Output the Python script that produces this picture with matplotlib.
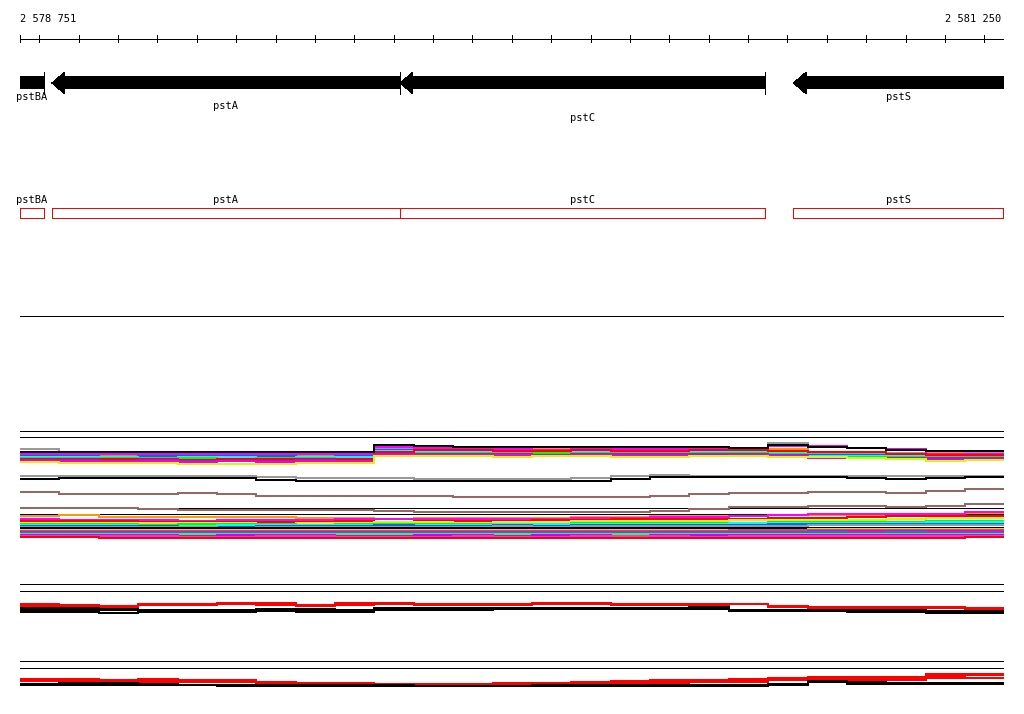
import matplotlib
matplotlib.use("Agg")
import matplotlib.pyplot as plt
from matplotlib.patches import Polygon, Rectangle

plt.rcParams["font.family"] = "DejaVu Sans Mono"

# region shown
view_start, view_end = 2578751, 2581250

# genes (all on the minus strand)
gene_names = ["pstBA", "pstA", "pstC", "pstS"]
gene_starts = [2578690, 2578832, 2579716, 2580715]
gene_ends = [2578812, 2579716, 2580644, 2581330]
label_rows = [0, 1, 2, 0]

# coverage cells, 100 bp each
cell_edges = [view_start + 100 * k for k in range(25)] + [view_end]

# track 1: dense coloured band + single lines (offsets below track line)
band1 = {
    "#ff9900": [16, 16.5, 16.5, 16, 16.5, 16.5, 16, 16.5, 16, 11, 12, 12.5, 12, 12.5, 12, 12.5, 12.5, 12.5, 13, 12, 15.5, 15.5, 16, 16, 16],
    "#999999": [12.5, 18, 18.5, 18, 18.5, 18.5, 18.5, 18, 18.5, 12, 13, 13.5, 13.5, 13, 13, 13.5, 13.5, 13, 13.5, 6.5, 16, 16, 16.5, 17, 16.5],
    "#ff00ff": [17.5, 17, 17.5, 17.5, 17, 17.5, 17.5, 17, 17.5, 10, 11.5, 12, 12.5, 13, 12.5, 12, 12.5, 11.5, 12, 9.5, 9.7, 11, 12, 17, 17],
    "#0066ff": [19.5, 19.5, 20, 19.5, 19.5, 19, 19.5, 20, 19.5, 13.5, 14, 14.5, 14.5, 15, 14.5, 14.5, 14, 14.5, 14.5, 15, 18, 18, 18, 18.5, 18.5],
    "#00ffff": [20.5, 20.5, 20.5, 21, 20.5, 20.5, 21, 20.5, 20.5, 14.5, 15, 15.5, 15, 15.5, 15.5, 15, 15.5, 15.5, 15.5, 16, 19.5, 19.5, 19.5, 19.5, 20],
    "#00ff00": [21.5, 21.5, 21, 21.5, 21.5, 22, 21.5, 21.5, 22, 15.5, 16, 16, 16.5, 16, 16.5, 16, 16.5, 16.5, 16.5, 17, 20, 20.5, 20, 20.5, 20.5],
    "#ff0000": [22.5, 22, 22.5, 22.5, 23, 22.5, 22, 22.5, 22.5, 15, 13, 13.5, 14, 14, 13.5, 14.5, 14, 13.5, 13, 14, 15, 15.5, 17.5, 18, 18],
    "#cc00ff": [23, 23.5, 24, 23.5, 24, 24, 24, 23.5, 24, 17, 17.5, 17.5, 17, 18, 17.5, 17.5, 17, 17.5, 17.5, 18, 21, 21, 21.5, 21, 21.5],
    "#ee00ee": [24.5, 24.5, 24, 24.5, 25, 24.5, 25, 24.5, 24.5, 18, 18.5, 18.5, 18.5, 19, 18.5, 19, 19, 19, 18.5, 19, 21.5, 21.5, 22, 23, 23.5],
    "#ccff00": [25.5, 26.5, 26.5, 26.5, 27, 27, 27, 26.5, 26, 19, 19.5, 19.5, 20, 19.5, 19.5, 20, 20, 19.5, 19.5, 20, 20.5, 21, 22.5, 24, 23],
    "#000000": [15, 15, 15, 15, 15, 15, 15, 15, 15, 8.5, 9.5, 10.5, 10.5, 10.5, 10.5, 10.5, 10.5, 10.5, 11, 8.5, 10, 11.5, 13, 14.7, 14.7],
}
grey_line = [39.7, 39.7, 39.7, 39.7, 39.7, 39.7, 40.5, 41.5, 41.3, 41.5, 42.3, 42.3, 42.3, 42.3, 41.5, 39.5, 38.5, 39.5, 39.5, 39.5, 39.5, 39.5, 39.5, 39.5, 39.5]
black_line = [42.3, 41.3, 41.3, 41.3, 41.3, 41.3, 43, 44.3, 44.3, 44.8, 44.3, 44.3, 44.3, 44.3, 44.3, 42.5, 40.5, 40.5, 40.5, 40.5, 40.5, 41.5, 42.3, 41.8, 40.3]
brown_line = [55.3, 57, 57, 57, 56.5, 57, 59, 59.3, 59.3, 59.3, 59.3, 60.3, 60.3, 60.3, 60.3, 60.3, 59.5, 57.8, 56.5, 56, 55.3, 55.5, 56.3, 54.5, 52.8]

# track 2
brown_line2 = [1, 1, 1, 2, 3, 3, 3, 3, 3, 3.7, 4.3, 4.3, 4.3, 4.3, 4.5, 5, 3.7, 1.5, 0, 0, -1, -1, 0, -1, -3]
band2 = {
    "#ff9900": [2.5, 2, 3.5, 3.5, 4, 4, 4, 4.5, 5, 5.5, 5, 5, 4.5, 4.5, 4, 3.5, 3, 3, 2.5, 2, 2, 2.5, 1.5, 1, 0],
    "#ff00ff": [6, 6.5, 7, 7, 7.5, 7, 7, 6.5, 6, 6, 6, 6, 5.5, 5.5, 5, 4.5, 4, 3.5, 2.5, 1.5, 1, 1, 1, 1, -1.5],
    "#ff0000": [8, 7.5, 8, 8.5, 8.5, 9, 9, 8.5, 8, 8.5, 8, 8, 7.5, 7, 7, 6, 6, 5.5, 5.5, 5, 4.5, 3.5, 3, 2.5, 2.5],
    "#ccff00": [9.5, 10, 10, 9.5, 10, 10, 10.5, 10, 9.5, 9, 9, 9.5, 9, 9, 8, 8, 8, 7.5, 7, 7, 7, 6.5, 6, 5, 4.5],
    "#00ff00": [10.5, 11, 11, 11.5, 11, 11, 11, 11.5, 11, 10.5, 10.5, 11, 10.5, 10.5, 10, 10, 9.5, 9.5, 9.5, 9, 9, 8.5, 8.5, 7.5, 7.5],
    "#00ffff": [11.5, 12, 12, 12.5, 12.5, 12, 12, 12, 11.5, 11.5, 11.5, 11.5, 11, 11, 11, 10.5, 10.5, 10.5, 10, 10, 10, 9.5, 9.5, 8.5, 8.5],
    "#0066ff": [12.5, 13, 13, 13, 13.5, 13.5, 13, 13, 12.5, 12, 12.5, 12.5, 12, 12.5, 12, 12, 11.5, 11.5, 11.5, 11, 11, 11, 10.5, 10.5, 10.5],
    "#999999": [13.5, 14, 14, 14, 14, 14.5, 14, 14, 13.5, 13.5, 13.5, 13.5, 13, 13.5, 13, 13, 13, 12.5, 12.5, 12.5, 12, 12, 12, 11.5, 11.5],
    "#000000": [15, 15, 15, 15, 15, 15, 15, 15, 15, 15, 15, 15, 15, 15, 15, 15, 15, 15, 15, 15, 14.8, 14.8, 14.5, 14.5, 14.5],
    "#ffcc00": [16.5, 16.5, 17, 16.5, 16.5, 17, 16.5, 16.5, 17, 16.5, 16.5, 16.5, 16.5, 17, 16.5, 16.5, 16.5, 16.5, 16.5, 16.5, 16, 16, 16, 16, 16],
    "#996666": [17.5, 17.5, 18, 17.5, 17.5, 17.5, 18, 17.5, 17.5, 17.5, 18, 17.5, 17.5, 17.5, 17.5, 18, 17.5, 17.5, 17, 17, 17, 17, 17, 17, 16.5],
    "#ee00ee": [18.5, 18.5, 19, 19, 18.5, 18.5, 19, 19, 18.5, 18.5, 19, 19, 19, 18.5, 18.5, 19, 19, 18.5, 18.5, 18.5, 18, 18, 18, 17.5, 17.5],
    "#3366ff": [19.5, 19.5, 20, 20, 20, 19.5, 19.5, 20, 20, 20, 20, 20, 19.5, 20, 20, 20, 19.5, 19.5, 19.5, 19.5, 19, 19.5, 19, 19.5, 19.5],
    "#33ff33": [20.5, 20.5, 21, 21, 21, 21, 21, 21, 21, 21, 21, 21, 21, 21, 20.5, 21, 21, 21, 21, 20.5, 20.5, 20.5, 20.5, 21, 21],
    "#cc00ff": [21.5, 22, 22, 22, 22.5, 22, 22, 22, 22.5, 22.5, 22, 22, 22.5, 22, 22, 22.5, 22, 22, 22, 22, 21.5, 22, 22, 22, 22],
    "#ff33cc": [22.5, 23, 23, 23, 23.5, 23.5, 23, 23, 23.5, 23.5, 23.5, 23, 23.5, 23.5, 23, 23, 23, 23.5, 23, 23, 23, 23, 22.5, 23, 23],
    "#ff0001": [24, 24, 24.5, 24.5, 25, 24.5, 24.5, 24.5, 24.5, 25, 25, 24.5, 24.5, 24.5, 25, 24.5, 24.5, 24.5, 25, 25, 24.5, 24.5, 24.5, 25, 24],
}

# track 3: red / black replicates
t3_red = [
    [14, 14.5, 15.2, 13.7, 13.2, 12.2, 13, 14.2, 12.7, 12.7, 13.2, 13.7, 13.7, 12.7, 13, 13.7, 13.7, 14, 13.2, 15.2, 16.7, 16.7, 17, 16.7, 17.7],
    [14.5, 15, 16, 14.5, 14, 13, 13.5, 15, 13.5, 13, 14, 14, 14, 13, 13, 14, 14, 14, 13.5, 16, 17, 17, 17.5, 17.5, 18],
    [15.5, 16.5, 17.5, 15, 15, 13.5, 14.5, 16, 14.5, 14, 15, 14.5, 15, 14, 14, 15, 14.5, 15, 14, 16.5, 18, 17.5, 18.5, 18, 18.5],
]
t3_black = [
    [18, 18, 18.5, 20, 21, 20, 19, 20, 21, 19, 19, 18.5, 18, 18, 18, 18, 18, 18, 20, 20.5, 20.5, 20.5, 21, 22, 22],
    [20, 20, 20, 20.5, 20, 20.5, 19.5, 19, 19.5, 18, 18, 18, 17.5, 17.5, 17.5, 17.5, 17.5, 17, 19.5, 19.5, 19.5, 19.5, 20, 21, 21],
    [22, 22, 23, 22, 22, 21.5, 21, 21.5, 22, 20, 20, 19.5, 19, 19, 19, 19, 19, 19, 20.5, 21, 21, 21.5, 21.5, 22.5, 22.5],
]

# track 4: red / black replicates
t4_red = [
    [11.5, 11.5, 13, 11.5, 12.5, 13, 14.5, 16, 16, 16.5, 17, 16.5, 16, 15.5, 14.5, 13.5, 13, 12.5, 11.5, 10.5, 10, 10, 9.5, 7, 6.5],
    [12.5, 13, 14, 13, 13.5, 14, 15, 16.5, 17, 17.5, 17.5, 17, 16.5, 16, 15.5, 14.5, 13.5, 13.5, 12.5, 11.5, 11, 11, 11, 8.5, 8],
    [14, 14, 15, 14.5, 14.5, 14.5, 16, 17, 18, 18, 18.5, 17.5, 18, 17, 16.5, 15.5, 15.5, 14.5, 14.5, 13, 13, 12.5, 13, 10.5, 10.5],
]
t4_black = [
    [16.5, 16, 16, 17, 17.5, 18, 18, 18, 18, 18, 18.5, 18.5, 18.5, 18, 18, 18, 18, 18, 18, 17, 14, 15, 16, 16, 16],
    [18, 17.5, 17.5, 18, 18, 18.5, 18.5, 18.5, 18.5, 18.5, 19, 19, 19, 19, 19, 19, 19, 19, 19, 18, 15, 16.5, 16.5, 16.5, 16.5],
]

W, H = 1024, 714
PX = 0.72  # one pixel in points
fig = plt.figure(figsize=(W / 100, H / 100), dpi=100)
ax = fig.add_axes([20 / W, 0, 984 / W, 1])
ax.set_xlim(view_start, view_end)
ax.set_ylim(H, 0)
ax.axis("off")


def fmt(n):
    return f"{n:,}".replace(",", " ")


def steps(base, vals, color, lw=2 * PX):
    ys = [base + v for v in vals] + [base + vals[-1]]
    ax.plot(cell_edges, ys, drawstyle="steps-post", color=color, lw=lw,
            antialiased=False, solid_capstyle="butt")


def hline(y):
    ax.plot([view_start, view_end], [y + 0.5, y + 0.5], color="black", lw=PX, antialiased=False)


# ruler
hline(38)
ticks = [view_start] + list(range(2578800, view_end, 100)) + [view_end]
for t in ticks:
    ax.plot([t, t], [35, 42], color="black", lw=PX, antialiased=False)
ax.text(view_start, 19, fmt(view_start), fontsize=7.5, ha="left", va="center")
ax.text(view_end - 8, 19, fmt(view_end), fontsize=7.5, ha="right", va="center")

# gene arrows
bp_per_px = (view_end - view_start) / 984
head = 13 * bp_per_px
label_y = [97, 106, 118]
for name, s, e, row in zip(gene_names, gene_starts, gene_ends, label_rows):
    pts = [(s, 83), (s + head, 72), (s + head, 76), (e, 76), (e, 89), (s + head, 89), (s + head, 94)]
    ax.add_patch(Polygon(pts, closed=True, facecolor="black", edgecolor="none", antialiased=False))
    if e < view_end:
        ax.plot([e, e], [72, 94], color="black", lw=PX, antialiased=False)
    mid = (max(s, view_start) + min(e, view_end)) / 2
    ax.text(mid, label_y[row], name, fontsize=7.5, ha="center", va="center")

# gene boxes
for name, s, e in zip(gene_names, gene_starts, gene_ends):
    x0, x1 = max(s, view_start), min(e, view_end - 3)
    ax.add_patch(Rectangle((x0, 207.5), x1 - x0, 10, facecolor="none", edgecolor="red",
                           lw=PX, antialiased=False))
    ax.text((x0 + x1) / 2, 200, name, fontsize=7.5, ha="center", va="center")

hline(315)

# track 1
hline(430)
hline(436)
for c, vals in band1.items():
    steps(436.5, vals, c)
steps(436.5, grey_line, "#999999", lw=1.5 * PX)
steps(436.5, black_line, "black", lw=1.5 * PX)
steps(436.5, brown_line, "#996666", lw=1.5 * PX)

# track 2
hline(507)
steps(507.3, brown_line2, "#996666", lw=1.5 * PX)
hline(513)
for c, vals in band2.items():
    steps(513.3, vals, c)

# track 3
hline(583)
hline(590)
for vals in t3_red:
    steps(590.3, vals, "red", lw=1.5 * PX)
for vals in t3_black:
    steps(590.3, vals, "black", lw=1.5 * PX)

# track 4
hline(660)
hline(667)
for vals in t4_red:
    steps(667.3, vals, "red", lw=1.5 * PX)
for vals in t4_black:
    steps(667.3, vals, "black", lw=1.5 * PX)

fig.savefig("out.png", dpi=100, facecolor="white")
